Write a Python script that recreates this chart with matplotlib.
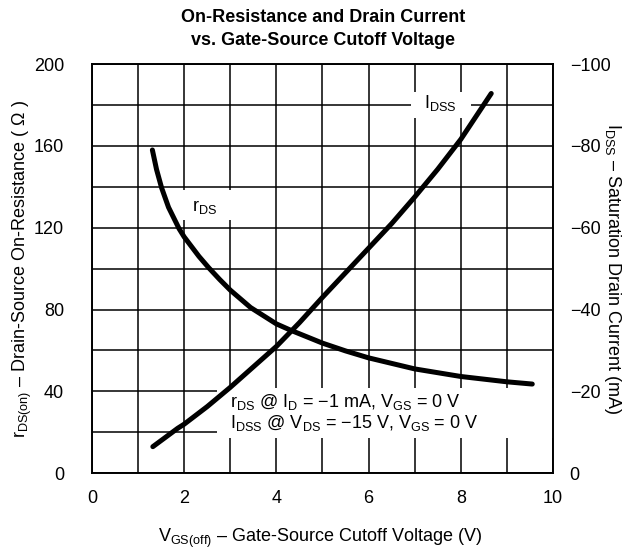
import matplotlib
matplotlib.use("Agg")
import matplotlib.pyplot as plt
from matplotlib.patches import Rectangle

plt.rcParams['font.family'] = ['Liberation Sans', 'DejaVu Sans']
plt.rcParams['mathtext.fontset'] = 'custom'
plt.rcParams['mathtext.rm'] = 'Liberation Sans'
plt.rcParams['mathtext.it'] = 'Liberation Sans'
plt.rcParams['mathtext.bf'] = 'Liberation Sans:bold'

# rDS (ohm) vs VGS(off)
rds_v = [1.31, 1.40, 1.51, 1.66, 1.89, 2.0, 2.32, 2.53, 2.77, 3.0, 3.44, 4.0, 4.31,
         5.0, 5.5, 6.0, 7.0, 8.0, 9.0, 9.55]
rds_ohm = [158, 148.5, 139.5, 130, 119.5, 115.5, 106, 100.5, 94.7, 89.5, 81, 73, 69.9,
           63.6, 59.8, 56.4, 51, 47.3, 44.7, 43.6]

# IDSS (mA) vs VGS(off)
idss_v = [1.32, 1.86, 2.0, 2.5, 3.0, 3.5, 4.0, 4.5, 5.0, 5.5, 6.0, 6.5, 7.0,
          7.5, 8.0, 8.66]
idss_ma = [-6.5, -11, -12, -16.3, -21, -26, -31, -36.8, -43, -49, -55, -61, -67.5,
           -74.3, -81.6, -92.8]

x_ticks = [0, 2, 4, 6, 8, 10]
left_ticks = [0, 40, 80, 120, 160, 200]
right_ticks = [0, -20, -40, -60, -80, -100]

fs = 13
fig = plt.figure(figsize=(6.27, 5.5), dpi=100)
ax = fig.add_axes([0.1467, 0.1395, 0.7353, 0.7441])

ax.set_xlim(0, 10)
ax.set_ylim(0, 200)
ax.set_xticks(x_ticks)
ax.set_xticks(range(0, 11), minor=True)
ax.set_yticks(left_ticks)
ax.set_yticks(range(0, 201, 20), minor=True)
ax.grid(True, which='both', color='black', linewidth=1.1)
ax.tick_params(which='both', length=0, labelsize=fs)
ax.tick_params(axis='y', pad=20)
ax.tick_params(axis='x', pad=12)
for s in ax.spines.values():
    s.set_linewidth(1.2)

ax.plot(rds_v, rds_ohm, color='black', linewidth=3.6, solid_capstyle='round',
        solid_joinstyle='round', zorder=3)

# white backgrounds behind the labels
for (x0, y0, w, h) in [(2.71, 17.2, 7.29, 24.5), (1.85, 123.7, 1.25, 14.7), (6.92, 173.4, 1.3, 13)]:
    ax.add_patch(Rectangle((x0, y0), w, h, facecolor='white', edgecolor='none', zorder=1.8))

ax.text(2.44, 129.9, r'r$_{\mathregular{DS}}$', fontsize=fs, ha='center', va='center', zorder=1.9)
ax.text(7.55, 180.9, r'I$_{\mathregular{DSS}}$', fontsize=fs, ha='center', va='center', zorder=1.9)
ax.text(3.0, 35, r'r$_{\mathregular{DS}}$ @ I$_{\mathregular{D}}$ = −1 mA, V$_{\mathregular{GS}}$ = 0 V',
        fontsize=fs, ha='left', va='center', zorder=1.9)
ax.text(3.0, 24.6, r'I$_{\mathregular{DSS}}$ @ V$_{\mathregular{DS}}$ = −15 V, V$_{\mathregular{GS}}$ = 0 V',
        fontsize=fs, ha='left', va='center', zorder=1.9)

ax.set_xlabel(r'V$_{\mathregular{GS(off)}}$ – Gate-Source Cutoff Voltage (V)', fontsize=fs,
              va='center')
ax.xaxis.set_label_coords(0.495, -0.158)
ax.set_ylabel(r'r$_{\mathregular{DS(on)}}$ – Drain-Source On-Resistance ( Ω )', fontsize=fs,
              va='center')
ax.yaxis.set_label_coords(-0.152, 0.5)

ax2 = ax.twinx()
ax2.set_ylim(0, -100)
ax2.set_yticks(right_ticks)
ax2.tick_params(length=0, labelsize=fs, pad=12)
ax2.plot(idss_v, idss_ma, color='black', linewidth=3.6, solid_capstyle='round',
         solid_joinstyle='round', zorder=3)
ax2.set_ylabel(r'I$_{\mathregular{DSS}}$ – Saturation Drain Current (mA)', fontsize=fs,
               rotation=270, va='center')
ax2.yaxis.set_label_coords(1.128, 0.5)
for s in ax2.spines.values():
    s.set_linewidth(1.2)

fig.text(0.515, 0.969, 'On-Resistance and Drain Current', fontsize=fs, fontweight='bold',
         ha='center', va='center')
fig.text(0.515, 0.927, 'vs. Gate-Source Cutoff Voltage', fontsize=fs, fontweight='bold',
         ha='center', va='center')

fig.savefig('out.png', dpi=100)
